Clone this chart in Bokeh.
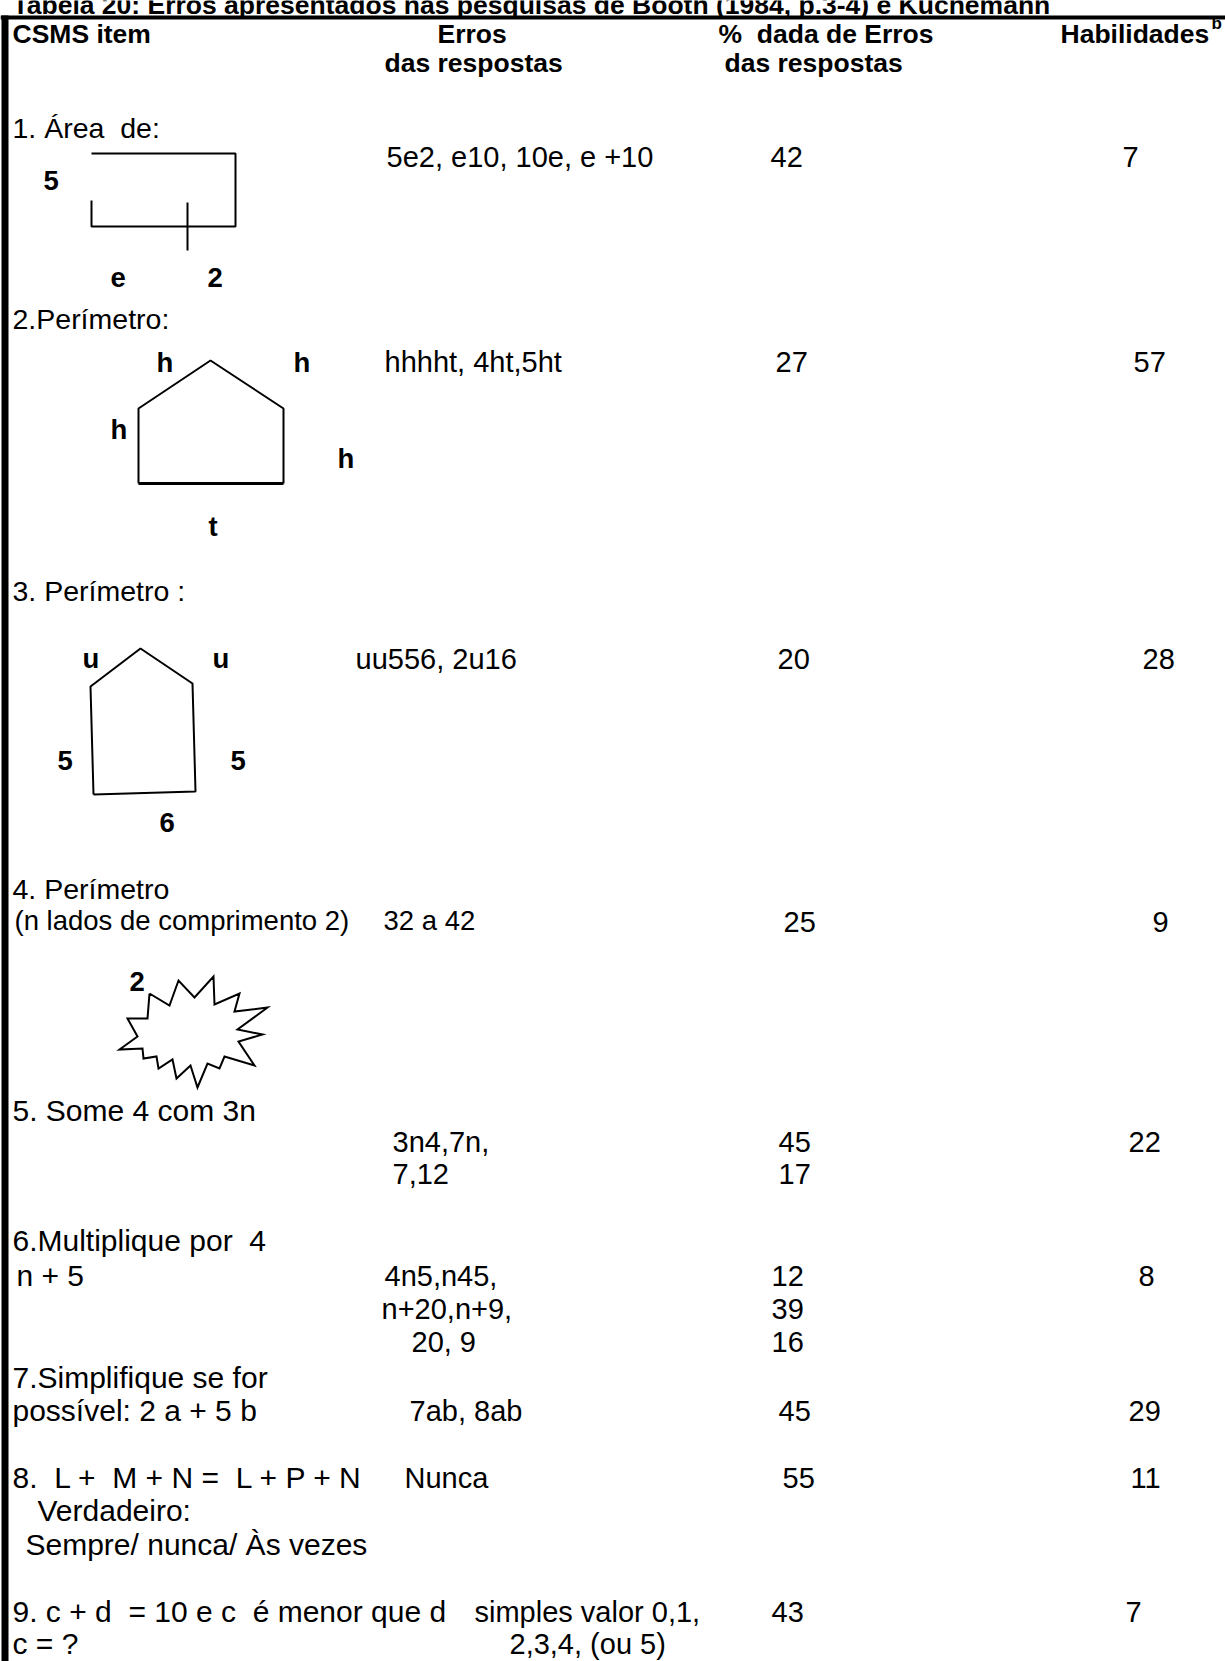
from bokeh.plotting import figure
from bokeh.models import Range1d
from bokeh.embed import file_html
from bokeh.resources import INLINE
from bokeh.core.properties import value

FONT = value("Liberation Sans")

# ---------------- content ----------------
title = "Tabela 20: Erros apresentados nas pesquisas de Booth (1984, p.3-4) e Kuchemann"

header_text = ["CSMS item", "Erros", "das respostas", "%\u00a0 dada de Erros", "das respostas", "Habilidades"]
header_x = [12, 437, 384, 718, 724, 1060]
header_y = [33, 33, 62, 33, 62, 33]

item_text = ["1. Área\u00a0 de:", "2.Perímetro:", "3. Perímetro :", "4. Perímetro"]
item_x = [12, 12, 12, 12]
item_y = [127, 318, 590, 888]

item2_text = ["5. Some 4 com 3n", "6.Multiplique por\u00a0 4", "n + 5", "7.Simplifique se for",
              "possível: 2 a + 5 b", "8.\u00a0 L +\u00a0 M + N =\u00a0 L + P + N", "Verdadeiro:",
              "Sempre/ nunca/ Às vezes", "9. c + d\u00a0 = 10 e c\u00a0 é menor que d", "c = ?"]
item2_x = [12, 12, 16, 12, 12, 12, 37, 25, 12, 12]
item2_y = [1110, 1240, 1275, 1377, 1410, 1477, 1510, 1544, 1611, 1643]

small_text = ["(n lados de comprimento 2)", "32 a 42"]
small_x = [14, 383]
small_y = [920, 920]

erro_text = ["5e2, e10, 10e, e +10", "hhhht, 4ht,5ht", "uu556, 2u16", "3n4,7n,", "7,12",
             "4n5,n45,", "n+20,n+9,", "20, 9", "7ab, 8ab", "Nunca", "simples valor 0,1,", "2,3,4, (ou 5)"]
erro_x = [386, 384, 355, 392, 392, 384, 381, 411, 409, 404, 474, 509]
erro_y = [156, 361, 658, 1141, 1173, 1275, 1308, 1341, 1410, 1477, 1611, 1643]

pct_text = ["42", "27", "20", "25", "45", "17", "12", "39", "16", "45", "55", "43"]
pct_x = [770, 775, 777, 783, 778, 778, 771, 771, 771, 778, 782, 771]
pct_y = [156, 361, 658, 921, 1141, 1173, 1275, 1308, 1341, 1410, 1477, 1611]

hab_text = ["7", "57", "28", "9", "22", "8", "29", "11", "7"]
hab_x = [1122, 1133, 1142, 1152, 1128, 1138, 1128, 1130, 1125]
hab_y = [156, 361, 658, 921, 1141, 1275, 1410, 1477, 1611]

label_text = ["5", "e", "2", "h", "h", "h", "h", "t", "u", "u", "5", "5", "6", "2"]
label_x = [43, 110, 207, 156, 293, 110, 337, 208, 82, 212, 57, 230, 159, 129]
label_y = [180, 277, 277, 362, 362, 429, 458, 526, 658, 658, 760, 760, 822, 981]

# figures drawn in the first column
rect_x = [91, 235, 235, 91, 91]
rect_y = [153, 153, 226, 226, 200]
tick_x = [187, 187]
tick_y = [202, 250]

pent2_x = [138, 138, 210, 283, 283]
pent2_y = [483, 408, 360, 408, 483]
pent2_base_x = [138, 283]
pent2_base_y = [483, 483]

pent3_x = [93, 90, 140, 192, 195, 93]
pent3_y = [794, 686, 648, 683, 791, 794]

star_x = [149, 169, 178, 194, 213, 214, 239, 234, 267, 237, 262, 238, 254, 224, 219, 207,
          197, 190, 176, 172, 158, 156, 143, 142, 119, 137, 127, 147, 149]
star_y = [993, 1005, 980, 997, 976, 1004, 993, 1011, 1007, 1029, 1034, 1041, 1065, 1056, 1068, 1063,
          1087, 1065, 1078, 1059, 1068, 1056, 1058, 1048, 1049, 1036, 1018, 1018, 993]

# ---------------- figure ----------------
W, H = 1225, 1661
p = figure(width=W, height=H, x_range=Range1d(0, W), y_range=Range1d(H, 0),
           output_backend="svg", toolbar_location=None, min_border=0,
           x_axis_location=None, y_axis_location=None)
p.grid.visible = False
p.outline_line_color = None
p.background_fill_color = "white"
p.border_fill_color = "white"

# thick borders
p.quad(left=[0], right=[W], top=[15], bottom=[19], fill_color="black", line_color=None)
p.quad(left=[1], right=[8], top=[15], bottom=[H], fill_color="black", line_color=None)

def txt(xs, ys, ts, size, bold=False):
    p.text(x=xs, y=ys, text=ts, text_font=FONT, text_font_size=size,
           text_font_style="bold" if bold else "normal", text_color="black",
           text_baseline="alphabetic", text_align="left")

txt([12], [4], [title], "26.5px", bold=True)
txt(header_x, header_y, header_text, "26.5px", bold=True)
txt([1211], [23], ["b"], "17px", bold=True)
txt(item_x, item_y, item_text, "28.5px")
txt(item2_x, item2_y, item2_text, "30px")
txt(small_x, small_y, small_text, "27.5px")
txt(erro_x, erro_y, erro_text, "29px")
txt(pct_x, pct_y, pct_text, "29px")
txt(hab_x, hab_y, hab_text, "29px")
txt(label_x, label_y, label_text, "27.5px", bold=True)

p.line(rect_x, rect_y, line_color="black", line_width=2)
p.line(tick_x, tick_y, line_color="black", line_width=2)
p.line(pent2_x, pent2_y, line_color="black", line_width=2)
p.line(pent2_base_x, pent2_base_y, line_color="black", line_width=3)
p.line(pent3_x, pent3_y, line_color="black", line_width=2)
p.line(star_x, star_y, line_color="black", line_width=2, line_join="miter")

open("out.html", "w").write(file_html(p, INLINE))
